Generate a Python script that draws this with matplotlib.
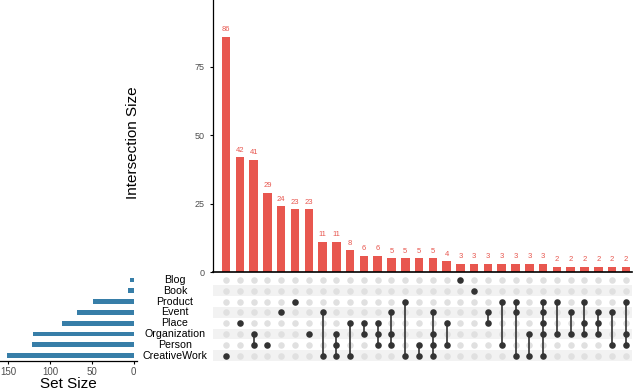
import numpy as np
import matplotlib
matplotlib.use('Agg')
import matplotlib.pyplot as plt
from matplotlib.transforms import blended_transform_factory

plt.rcParams['font.family'] = ['Liberation Sans', 'DejaVu Sans']

# data
sets = ['Blog', 'Book', 'Product', 'Event', 'Place', 'Organization', 'Person', 'CreativeWork']
set_sizes = [4, 7, 49, 68, 86, 121, 122, 152]

inter_sizes = [86, 42, 41, 29, 24, 23, 23, 11, 11, 8, 6, 6, 5, 5, 5,
               5, 4, 3, 3, 3, 3, 3, 3, 3, 2, 2, 2, 2, 2, 2]
inter_members = [
    ['CreativeWork'],
    ['Place'],
    ['Organization', 'Person'],
    ['Person'],
    ['Event'],
    ['Product'],
    ['Organization'],
    ['Event', 'CreativeWork'],
    ['Organization', 'Person', 'CreativeWork'],
    ['Place', 'CreativeWork'],
    ['Place', 'Organization'],
    ['Place', 'Organization', 'Person'],
    ['Event', 'Organization', 'Person'],
    ['Product', 'CreativeWork'],
    ['Person', 'CreativeWork'],
    ['Event', 'Organization', 'Person', 'CreativeWork'],
    ['Place', 'Person'],
    ['Blog'],
    ['Book'],
    ['Event', 'Place'],
    ['Product', 'Person'],
    ['Product', 'Event', 'CreativeWork'],
    ['Organization', 'CreativeWork'],
    ['Product', 'Event', 'Place', 'Organization', 'CreativeWork'],
    ['Product', 'Organization'],
    ['Event', 'Organization'],
    ['Product', 'Place', 'Organization'],
    ['Event', 'Place', 'Organization'],
    ['Event', 'Person'],
    ['Product', 'Organization', 'Person'],
]

red = '#e8574f'
blue = '#377ea8'
W, H = 640, 391

def frac(x0, y0, x1, y1):
    # pixel box (top-left origin) -> figure fraction
    return [x0 / W, 1 - y1 / H, (x1 - x0) / W, (y1 - y0) / H]

fig = plt.figure(figsize=(6.4, 3.91), dpi=100)

n = len(inter_sizes)
xs = np.arange(n)
xlim = (-0.95, n - 1 + 0.45)

# intersection bars
ax_bar = fig.add_axes(frac(213, 0, 632, 272))
ax_bar.bar(xs, inter_sizes, width=0.62, color=red)
for x, v in zip(xs, inter_sizes):
    ax_bar.annotate(str(v), (x, v), xytext=(0, 2.5), textcoords='offset points',
                    ha='center', va='bottom', fontsize=5.5, color=red)
ax_bar.set_xlim(*xlim)
ax_bar.set_ylim(0, 99.4)
ax_bar.set_yticks([0, 25, 50, 75])
ax_bar.set_xticks([])
ax_bar.tick_params(axis='y', labelsize=6.5, labelcolor='#4d4d4d', length=2.5, width=0.8)
for s in ['top', 'right']:
    ax_bar.spines[s].set_visible(False)
ax_bar.spines['left'].set_linewidth(0.9)
ax_bar.spines['bottom'].set_linewidth(1.2)
fig.text(133 / W, 1 - 143 / H, 'Intersection Size', rotation=90,
         ha='center', va='center', fontsize=11)

# matrix
ax_m = fig.add_axes(frac(213, 274.6, 632, 361))
nrow = len(sets)
for i in range(nrow):
    if i % 2 == 1:
        ax_m.axhspan(i - 0.5, i + 0.5, color='#f2f2f2', lw=0, zorder=0)
gx, gy = np.meshgrid(xs, np.arange(nrow))
ax_m.scatter(gx.ravel(), gy.ravel(), s=22, color='#e0e0e0', lw=0, zorder=1)
for x, mem in zip(xs, inter_members):
    rows = [sets.index(m) for m in mem]
    if len(rows) > 1:
        ax_m.plot([x, x], [min(rows), max(rows)], color='#333333', lw=1.2, zorder=2)
    ax_m.scatter([x] * len(rows), rows, s=22, color='#333333', lw=0, zorder=3)
ax_m.set_xlim(*xlim)
ax_m.set_ylim(nrow - 0.5, -0.5)
ax_m.axis('off')

# set sizes
ax_s = fig.add_axes(frac(0, 274.6, 137, 361))
ax_s.barh(np.arange(nrow), set_sizes, height=0.45, color=blue)
ax_s.set_xlim(160, -4)
ax_s.set_ylim(nrow - 0.5, -0.5)
ax_s.set_xticks([0, 50, 100, 150])
ax_s.set_yticks([])
ax_s.tick_params(axis='x', labelsize=7, labelcolor='#4d4d4d', length=2.5, width=0.8, pad=1.5)
for s in ['top', 'right', 'left']:
    ax_s.spines[s].set_visible(False)
ax_s.spines['bottom'].set_linewidth(0.9)
trans = blended_transform_factory(fig.transFigure, ax_s.transData)
for i, name in enumerate(sets):
    ax_s.text(175 / W, i, name, transform=trans, ha='center', va='center',
              fontsize=7.7, clip_on=False)
fig.text(68 / W, 1 - 384 / H, 'Set Size', ha='center', va='center', fontsize=11)

fig.savefig('out.png', dpi=100)
